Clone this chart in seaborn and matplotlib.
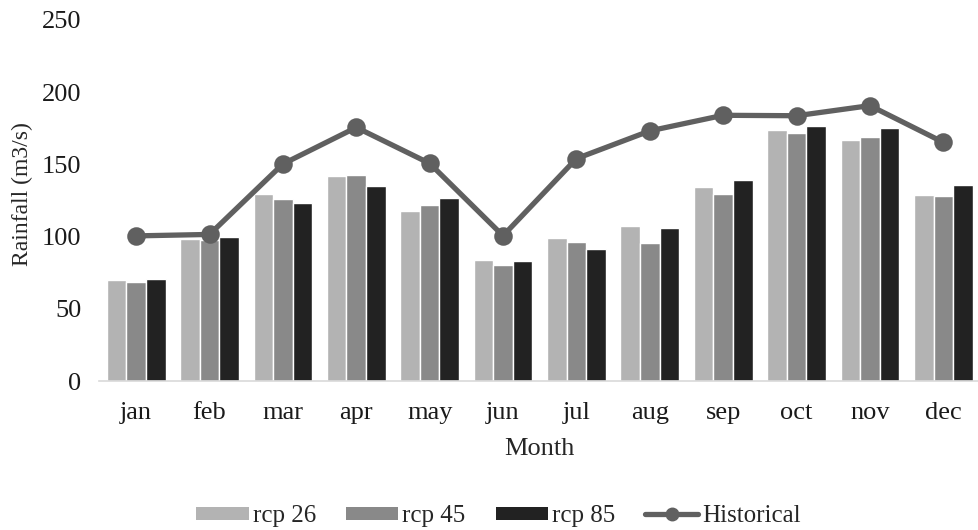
import pandas as pd
import seaborn as sns
import matplotlib.pyplot as plt
from matplotlib.patches import Patch
from matplotlib.lines import Line2D

months = ["jan", "feb", "mar", "apr", "may", "jun", "jul", "aug", "sep", "oct", "nov", "dec"]
rcp26 = [70, 98.5, 129.5, 141.7, 117.5, 83.5, 98.8, 107.5, 134.5, 173.6, 167, 129]
rcp45 = [68.8, 97.5, 126, 142.7, 122.2, 80, 96, 95.8, 129.5, 171.5, 168.7, 128]
rcp85 = [70.8, 99.8, 123.5, 134.8, 127, 82.8, 91.5, 106, 139, 176.8, 175, 136]
historical = [100.5, 101.5, 150.3, 175.6, 150.7, 100.6, 154, 173.2, 184, 183.7, 190.7, 165.3]

scenarios = ["rcp 26", "rcp 45", "rcp 85"]
colors = ["#b3b3b3", "#898989", "#222222"]
line_color = "#606060"

df = pd.DataFrame({
    "Month": months * 3,
    "Rainfall": rcp26 + rcp45 + rcp85,
    "Scenario": sum([[s] * len(months) for s in scenarios], []),
})

sns.set_style("white")
plt.rcParams["font.family"] = ["Liberation Serif", "DejaVu Serif"]
fs = 19

fig = plt.figure(figsize=(9.79, 5.30), dpi=100)
ax = fig.add_axes([0.1016, 0.2811, 0.8994, 0.6812])

sns.barplot(data=df, x="Month", y="Rainfall", hue="Scenario", palette=colors,
            width=0.8, gap=0, ax=ax, legend=False, saturation=1)
sns.pointplot(x=months, y=historical, color=line_color, ax=ax,
              markers="o", markersize=10.5, linewidth=3.8)

ax.set_xlim(-0.5, 11.5)
ax.set_ylim(0, 250)
ax.set_yticks([0, 50, 100, 150, 200, 250])
ax.set_xlabel("Month", fontsize=fs)
ax.set_ylabel("Rainfall (m3/s)", fontsize=17)
ax.xaxis.set_label_coords(0.5, -0.158)
ax.yaxis.set_label_coords(-0.0757, 0.518)
ax.tick_params(axis="both", labelsize=fs, length=0, colors="#1a1a1a")
ax.tick_params(axis="x", pad=15)
ax.tick_params(axis="y", pad=13)
for side in ["top", "right", "left"]:
    ax.spines[side].set_visible(False)
ax.spines["bottom"].set_color("#d9d9d9")
ax.spines["bottom"].set_linewidth(1.2)

handles = [Patch(facecolor=c, edgecolor="none") for c in colors]
handles.append(Line2D([], [], color=line_color, lw=3.8, marker="o", markersize=9))
fig.legend(handles, scenarios + ["Historical"], loc="center", bbox_to_anchor=(0.509, 0.026),
           ncol=4, frameon=False, fontsize=18, handlelength=2.1, handleheight=0.45,
           handletextpad=0.16, columnspacing=1.2, borderpad=0)

fig.savefig("out.png", dpi=100)
